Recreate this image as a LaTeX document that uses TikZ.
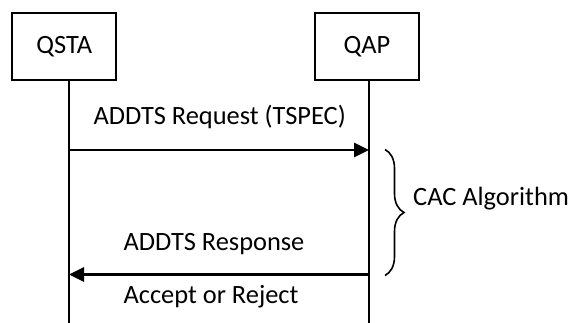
\documentclass[tikz,border=0pt]{standalone}
\usepackage{fontspec}
\setmainfont{Carlito}
\usepackage{tikz}
\usetikzlibrary{arrows.meta,positioning,calc,decorations.pathreplacing}

\begin{document}
\begin{tikzpicture}[x=1pt,y=-1pt,font=\fontsize{26.4}{30}\selectfont,entity/.style={draw,line width=2pt,minimum width=104pt,minimum height=66.7pt,inner sep=0pt},lifeline/.style={line width=2pt},msg/.style={-{Triangle[length=15pt,width=14pt]},line width=2.6pt},msglabel/.style={anchor=base,inner sep=0pt},bracket/.style={decorate,decoration={brace,amplitude=19pt},line width=1.6pt}]
  \useasboundingbox (0,0) rectangle (570,323);
  \node[entity] (qsta) at (64.2,46.7) {QSTA};
  \node[entity] (qap) at (367,46.7) {QAP};
  \coordinate (qstaEnd) at (69,323);
  \coordinate (qapEnd) at (369,323);
  \draw[lifeline] (qsta.south -| qstaEnd) -- (qstaEnd);
  \draw[lifeline] (qap.south -| qapEnd) -- (qapEnd);
  \coordinate (reqFrom) at (68,150);
  \coordinate (reqTo) at (369,150);
  \coordinate (rspFrom) at (369,274.5);
  \coordinate (rspTo) at (69,274.5);
  \draw[msg] (reqFrom) -- (reqTo);
  \draw[msg] (rspFrom) -- (rspTo);
  \node[msglabel] (req) at (219.7,125) {ADDTS Request (TSPEC)};
  \node[msglabel] (rsp) at (214,250) {ADDTS Response};
  \node[msglabel] (verdict) at (211,303) {Accept or Reject};
  \coordinate (cacTop) at (385,149.5);
  \coordinate (cacBottom) at (385,275.5);
  \draw[bracket] (cacTop) -- (cacBottom);
  \node[anchor=base west,inner sep=0pt] (cac) at (413,205) {CAC Algorithm};
\end{tikzpicture}
\end{document}
